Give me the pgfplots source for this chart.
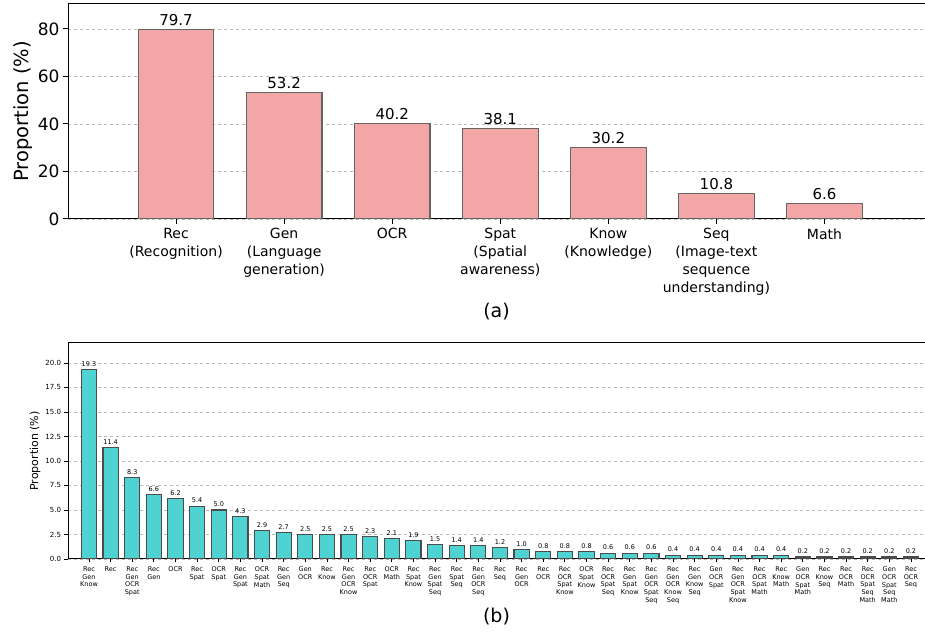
\documentclass[border=0pt]{standalone}
\usepackage{fontspec}
\setmainfont{DejaVu Sans}
\usepackage{pgfplots}
\pgfplotsset{compat=1.18}
\definecolor{topbar}{RGB}{243,166,166}
\definecolor{botbar}{RGB}{78,210,210}
\definecolor{edge}{RGB}{100,100,100}
\definecolor{edgeb}{RGB}{75,75,75}
\begin{document}
\begin{tikzpicture}[x=1pt,y=1pt]
\begin{axis}[at={(68pt,417pt)}, anchor=south west, scale only axis,
  width=857pt, height=215pt,
  xmin=-1, xmax=6.93, ymin=0, ymax=90.5,
  ybar, bar width=0.7,
  axis line style={line width=1pt},
  tick align=outside, tick pos=lower, major tick length=5pt,
  tick style={black, line width=1pt},
  ytick={0,20,40,60,80},
  ymajorgrids, grid style={dashed, gray!55, line width=0.8pt},
  /pgf/number format/assume math mode=true,
  yticklabel style={font=\fontsize{17}{20}\selectfont},
  ylabel={Proportion (\%)}, ylabel style={font=\fontsize{19.5}{22}\selectfont, yshift=-2pt},
  xtick={0,1,2,3,4,5,6},
  xticklabels={{Rec\\(Recognition)},{Gen\\(Language\\generation)},{OCR},{Spat\\(Spatial\\awareness)},{Know\\(Knowledge)},{Seq\\(Image-text\\sequence\\understanding)},{Math}},
  xticklabel style={font=\fontsize{14}{18}\selectfont, align=center, anchor=north, yshift=-1pt},
  nodes near coords={\pgfmathprintnumber[fixed,fixed zerofill,precision=1]{\pgfplotspointmeta}},
  nodes near coords style={font=\fontsize{15}{17}\selectfont, inner sep=1.5pt, yshift=1.5pt},
  xlabel={(a)}, xlabel style={font=\fontsize{19}{22}\selectfont, yshift=0pt},
]
\addplot[fill=topbar, draw=edge, line width=1.2pt] coordinates {(0,79.7) (1,53.2) (2,40.2) (3,38.1) (4,30.2) (5,10.8) (6,6.6)};
\end{axis}
\begin{axis}[at={(68pt,77pt)}, anchor=south west, scale only axis,
  width=857pt, height=216pt,
  xmin=-0.97, xmax=38.65, ymin=0, ymax=22.04,
  ybar, bar width=0.7,
  axis line style={line width=1pt},
  tick align=outside, tick pos=lower, major tick length=3.5pt,
  tick style={black, line width=0.8pt},
  ytick={0,2.5,5,7.5,10,12.5,15,17.5,20},
  yticklabel style={font=\fontsize{7}{8}\selectfont, /pgf/number format/.cd, fixed, fixed zerofill, precision=1},
  ymajorgrids, grid style={dashed, gray!55, line width=0.8pt},
  /pgf/number format/assume math mode=true,
  ylabel={Proportion (\%)}, ylabel style={font=\fontsize{11}{13}\selectfont, yshift=-2pt},
  xtick={0,...,38},
  xticklabels={{Rec\\Gen\\Know},{Rec},{Rec\\Gen\\OCR\\Spat},{Rec\\Gen},{OCR},{Rec\\Spat},{OCR\\Spat},{Rec\\Gen\\Spat},{OCR\\Spat\\Math},{Rec\\Gen\\Seq},{Gen\\OCR},{Rec\\Know},{Rec\\Gen\\OCR\\Know},{Rec\\OCR\\Spat},{OCR\\Math},{Rec\\Spat\\Know},{Rec\\Gen\\Spat\\Seq},{Rec\\Spat\\Seq},{Rec\\Gen\\OCR\\Seq},{Rec\\Seq},{Rec\\Gen\\OCR},{Rec\\OCR},{Rec\\OCR\\Spat\\Know},{OCR\\Spat\\Know},{Rec\\OCR\\Spat\\Seq},{Rec\\Gen\\Spat\\Know},{Rec\\Gen\\OCR\\Spat\\Seq},{Rec\\Gen\\OCR\\Know\\Seq},{Rec\\Gen\\Know\\Seq},{Gen\\OCR\\Spat},{Rec\\Gen\\OCR\\Spat\\Know},{Rec\\OCR\\Spat\\Math},{Rec\\Know\\Math},{Gen\\OCR\\Spat\\Math},{Rec\\Know\\Seq},{Rec\\OCR\\Math},{Rec\\OCR\\Spat\\Seq\\Math},{Gen\\OCR\\Spat\\Seq\\Math},{Rec\\OCR\\Seq}},
  xticklabel style={font=\fontsize{6.5}{7.6}\selectfont, align=center, anchor=north, yshift=-1pt},
  nodes near coords={\pgfmathprintnumber[fixed,fixed zerofill,precision=1]{\pgfplotspointmeta}},
  nodes near coords style={font=\fontsize{6.5}{7.5}\selectfont, inner sep=1.5pt, yshift=1pt},
  xlabel={(b)}, xlabel style={font=\fontsize{19}{22}\selectfont, yshift=2pt},
]
\addplot[fill=botbar, draw=edgeb, line width=1.1pt] coordinates {(0,19.3) (1,11.4) (2,8.3) (3,6.6) (4,6.2) (5,5.4) (6,5.0) (7,4.3) (8,2.9) (9,2.7) (10,2.5) (11,2.5) (12,2.5) (13,2.3) (14,2.1) (15,1.9) (16,1.5) (17,1.4) (18,1.4) (19,1.2) (20,1.0) (21,0.8) (22,0.8) (23,0.8) (24,0.6) (25,0.6) (26,0.6) (27,0.4) (28,0.4) (29,0.4) (30,0.4) (31,0.4) (32,0.4) (33,0.2) (34,0.2) (35,0.2) (36,0.2) (37,0.2) (38,0.2)};
\end{axis}
\pgfresetboundingbox
\useasboundingbox (0,0) rectangle (925pt,636pt);
\end{tikzpicture}
\end{document}
